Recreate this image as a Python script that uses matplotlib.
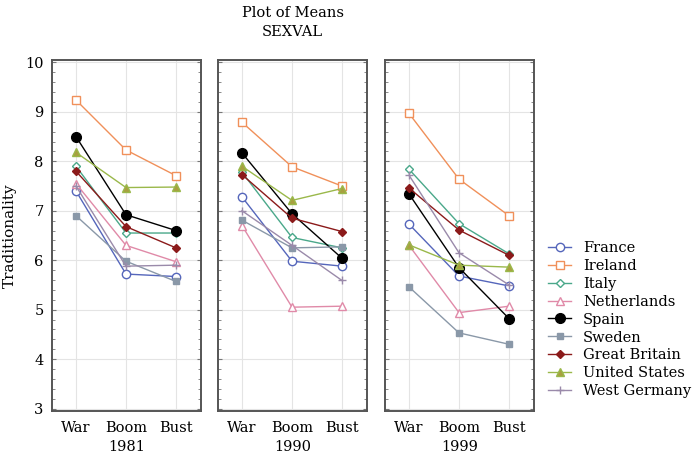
import matplotlib
matplotlib.use("Agg")
import matplotlib.pyplot as plt
from matplotlib.ticker import MultipleLocator

plt.rcParams['font.family'] = ['DejaVu Serif']

periods = ["War", "Boom", "Bust"]
years = ["1981", "1990", "1999"]
countries = ["France", "Ireland", "Italy", "Netherlands", "Spain", "Sweden",
             "Great Britain", "United States", "West Germany"]

france = [[7.40, 5.72, 5.67], [7.28, 5.98, 5.88], [6.73, 5.68, 5.48]]
ireland = [[9.24, 8.23, 7.71], [8.79, 7.89, 7.50], [8.97, 7.64, 6.90]]
italy = [[7.90, 6.55, 6.55], [7.78, 6.46, 6.25], [7.84, 6.74, 6.13]]
netherlands = [[7.55, 6.30, 5.97], [6.70, 5.05, 5.07], [6.30, 4.94, 5.07]]
spain = [[8.50, 6.92, 6.60], [8.17, 6.94, 6.04], [7.34, 5.85, 4.82]]
sweden = [[6.90, 5.98, 5.57], [6.81, 6.25, 6.27], [5.46, 4.53, 4.30]]
great_britain = [[7.80, 6.68, 6.25], [7.73, 6.85, 6.58], [7.46, 6.61, 6.10]]
united_states = [[8.18, 7.47, 7.48], [7.90, 7.21, 7.45], [6.31, 5.90, 5.86]]
west_germany = [[7.50, 5.88, 5.90], [7.00, 6.30, 5.59], [7.72, 6.15, 5.50]]

series = [france, ireland, italy, netherlands, spain, sweden,
          great_britain, united_states, west_germany]

styles = [
    dict(color='#5566bb', marker='o', mfc='white', ms=6),
    dict(color='#f0905a', marker='s', mfc='white', ms=6),
    dict(color='#4aa88a', marker='D', mfc='white', ms=4.5),
    dict(color='#e08aa8', marker='^', mfc='white', ms=5.5),
    dict(color='black', marker='o', mfc='black', ms=7),
    dict(color='#8a98a8', marker='s', mfc='#8a98a8', ms=5),
    dict(color='#8b1a1a', marker='D', mfc='#8b1a1a', ms=4),
    dict(color='#9ab84a', marker='^', mfc='#a8a040', ms=5.5),
    dict(color='#9a8aaa', marker='+', mfc='#9a8aaa', ms=6),
]

fig = plt.figure(figsize=(6.99, 4.55), dpi=100)
W, H = 699, 455
lefts = [52, 218, 385]
pw = 149
top, bottom = 60, 411
axes = []
x = list(range(len(periods)))
for i, yr in enumerate(years):
    ax = fig.add_axes([lefts[i] / W, 1 - bottom / H, pw / W, (bottom - top) / H])
    axes.append(ax)
    handles = []
    for name, data, st in zip(countries, series, styles):
        h, = ax.plot(x, data[i], color=st['color'], marker=st['marker'],
                     mfc=st['mfc'], mec=st['color'], ms=st['ms'], lw=1.0,
                     mew=1.0, label=name)
        handles.append(h)
    ax.set_xlim(-0.48, 2.5)
    ax.set_ylim(2.95, 10.05)
    ax.set_xticks(x)
    ax.set_xticklabels(periods, fontsize=10.5)
    ax.set_xlabel(yr, fontsize=10.5, labelpad=4)
    ax.yaxis.set_major_locator(MultipleLocator(1))
    ax.yaxis.set_minor_locator(MultipleLocator(0.2))
    ax.grid(True, which='major', color='#e4e4e4', lw=0.8)
    ax.set_axisbelow(True)
    ax.tick_params(axis='both', which='both', direction='in', right=True,
                   color='#777777', length=3, pad=4)
    ax.tick_params(axis='y', which='minor', length=2)
    ax.tick_params(axis='x', length=0, pad=7)
    for sp in ax.spines.values():
        sp.set_color('#555555')
        sp.set_linewidth(1.4)
    if i == 0:
        ax.tick_params(axis='y', labelsize=10.5, pad=6)
        ax.set_ylabel("Traditionality", fontsize=11, labelpad=6)
    else:
        ax.tick_params(axis='y', labelleft=False)

axes[1].set_title("Plot of Means\nSEXVAL", fontsize=10.5, pad=17, linespacing=1.45)

fig.legend(handles, countries, loc='upper left',
           bbox_to_anchor=(542 / W, 1 - 235 / H), frameon=False,
           fontsize=10.5, handlelength=1.6, labelspacing=0.27,
           handletextpad=0.8, borderaxespad=0)

fig.savefig("out.png", dpi=100)
